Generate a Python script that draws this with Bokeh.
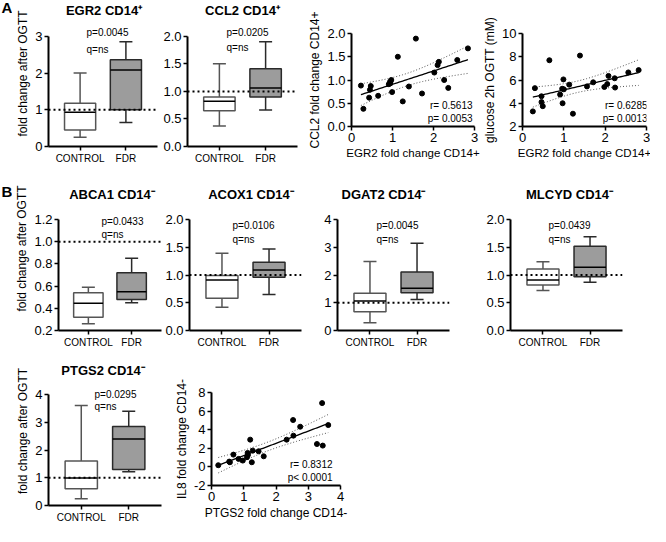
import numpy as np
from bokeh.plotting import figure
from bokeh.models import (Range1d, FactorRange, Label, Span, FixedTicker,
                          PrintfTickFormatter, ColumnDataSource)
from bokeh.layouts import row, column
from bokeh.core.properties import value
from bokeh.embed import file_html
from bokeh.resources import INLINE

FONT = "Liberation Sans"
groups = ["CONTROL", "FDR"]

# box statistics: [min, q1, median, q3, max]
egr2_control = [0.25, 0.45, 0.93, 1.18, 2.00]
egr2_fdr = [0.65, 1.00, 2.08, 2.36, 2.85]
ccl2_control = [0.37, 0.65, 0.82, 0.90, 1.50]
ccl2_fdr = [0.66, 0.90, 1.06, 1.41, 1.90]
abca1_control = [0.26, 0.32, 0.445, 0.54, 0.59]
abca1_fdr = [0.45, 0.48, 0.55, 0.72, 0.85]
acox1_control = [0.42, 0.58, 0.91, 0.99, 1.39]
acox1_fdr = [0.65, 0.96, 1.09, 1.23, 1.47]
dgat2_control = [0.28, 0.68, 1.06, 1.34, 2.49]
dgat2_fdr = [1.12, 1.36, 1.52, 2.11, 3.14]
mlcyd_control = [0.72, 0.82, 0.91, 1.11, 1.24]
mlcyd_fdr = [0.87, 0.97, 1.14, 1.52, 1.69]
ptgs2_control = [0.24, 0.60, 0.99, 1.60, 3.60]
ptgs2_fdr = [1.22, 1.30, 2.40, 2.85, 3.40]

# scatter data
egr2_fc = [0.23, 0.29, 0.43, 0.45, 0.47, 0.65, 0.91, 0.94, 0.95, 0.97, 0.99, 1.13,
           1.25, 1.40, 1.57, 1.72, 2.02, 2.10, 2.13, 2.26, 2.36, 2.58, 2.84]
ccl2_fc = [0.88, 0.38, 0.62, 0.79, 0.87, 0.66, 0.91, 0.96, 0.93, 1.00, 0.74, 1.50,
           0.54, 0.86, 1.89, 0.71, 1.16, 1.32, 1.39, 1.00, 0.83, 1.43, 1.68]
egr2_fc_g = [0.25, 0.30, 0.46, 0.46, 0.49, 0.65, 0.91, 0.96, 0.97, 0.99, 1.00, 1.13,
             1.22, 1.39, 1.56, 1.71, 1.98, 2.05, 2.08, 2.23, 2.24, 2.56, 2.81]
glucose_2h = [3.30, 5.30, 4.60, 4.10, 3.75, 7.70, 4.75, 5.25, 4.00, 6.05, 5.20, 5.60,
              3.10, 8.10, 5.45, 5.80, 5.40, 5.65, 6.35, 6.15, 5.35, 6.65, 6.85]
ptgs2_fc = [0.21, 0.55, 0.57, 0.68, 0.84, 0.97, 1.10, 1.12, 1.13, 1.20, 1.25, 1.28,
            1.46, 1.62, 2.33, 2.53, 2.54, 2.75, 3.27, 3.43, 3.45, 3.62]
il8_fc = [0.18, 0.57, 0.50, 1.32, 0.86, 0.68, 1.04, 1.50, 1.29, 2.93, 0.50, 1.75,
          1.68, 1.14, 2.93, 5.04, 3.36, 4.32, 2.46, 6.86, 2.29, 4.50]


def style(p, xsize, ysize):
    p.outline_line_color = None
    p.xgrid.visible = False
    p.ygrid.visible = False
    p.background_fill_color = "white"
    p.border_fill_color = "white"
    for ax, sz in ((p.xaxis[0], xsize), (p.yaxis[0], ysize)):
        ax.axis_line_width = 2
        ax.axis_line_color = "black"
        ax.major_tick_line_width = 1.5
        ax.major_tick_line_color = "black"
        ax.major_tick_in = 0
        ax.major_tick_out = 4
        ax.minor_tick_in = 0
        ax.minor_tick_out = 0
        ax.major_label_text_font = FONT
        ax.major_label_text_font_size = sz
        ax.major_label_text_color = "black"
        ax.major_label_standoff = 2
        ax.axis_label_text_font = FONT
        ax.axis_label_text_font_style = "normal"
        ax.axis_label_text_font_size = "12px"
        ax.axis_label_text_color = "black"
        ax.axis_label_standoff = 2


def lab(p, sx, sy, text, size="10px", align="left", bold=False):
    p.add_layout(Label(x=sx, y=sy, x_units="screen", y_units="screen", text=text,
                       text_font=FONT, text_font_size=size, text_align=align,
                       text_baseline="middle", text_color="black",
                       text_font_style="bold" if bold else "normal"))


def base_fig(W, H, mbl, mbr, mbt, mbb, xr, yr):
    return figure(width=W, height=H, output_backend="svg", toolbar_location=None,
                  x_range=xr, y_range=yr, frame_align=False,
                  min_border_left=mbl, min_border_right=mbr,
                  min_border_top=mbt, min_border_bottom=mbb)


def letter_fig(letter, W, H, yc):
    p = figure(width=W, height=H, output_backend="svg", toolbar_location=None,
               x_range=Range1d(0, W), y_range=Range1d(H, 0),
               x_axis_type=None, y_axis_type=None, min_border=0, frame_align=False)
    p.outline_line_color = None
    p.grid.visible = False
    p.border_fill_color = "white"
    p.text(x=[1], y=[yc], text=[letter], text_font=value(FONT), text_font_size="15px",
           text_font_style="bold", text_baseline="middle", text_color="black")
    return p


def box_panel(title, ctrl, fdr, y0, y1, yticks, yfmt, W, H, mbl, mbr, top_px, mbb,
              title_dx, title_y, pq_x, p_y, q_y, ptext, ylabel=None):
    fh = H - mbb
    yend = y1 + top_px * (y1 - y0) / (fh - top_px)
    p = base_fig(W, H, mbl, mbr, 0, mbb,
                 FactorRange(factors=groups, range_padding=0.19), Range1d(y0, yend))
    style(p, "10px", "13px")
    p.yaxis.bounds = (y0, y1)
    p.yaxis.ticker = FixedTicker(ticks=yticks)
    p.yaxis.formatter = PrintfTickFormatter(format=yfmt)
    if ylabel:
        p.yaxis.axis_label = ylabel
    stats = list(zip(ctrl, fdr))
    src = ColumnDataSource(dict(x=groups, lo=list(stats[0]), q1=list(stats[1]),
                                med=list(stats[2]), q3=list(stats[3]), hi=list(stats[4]),
                                fill=["white", "#9c9c9c"], line=["#555555", "#2a2a2a"],
                                mx0=[(g, -0.34) for g in groups],
                                mx1=[(g, 0.34) for g in groups]))
    p.segment(x0="x", y0="lo", x1="x", y1="q1", line_color="line", line_width=1.5, source=src)
    p.segment(x0="x", y0="q3", x1="x", y1="hi", line_color="line", line_width=1.5, source=src)
    p.scatter(x="x", y="lo", marker="dash", size=13, line_color="line", line_width=1.5, source=src)
    p.scatter(x="x", y="hi", marker="dash", size=13, line_color="line", line_width=1.5, source=src)
    p.vbar(x="x", bottom="q1", top="q3", width=0.68, fill_color="fill",
           line_color="line", line_width=1.5, source=src)
    p.segment(x0="mx0", y0="med", x1="mx1", y1="med", line_color="black",
              line_width=1.5, source=src)
    p.add_layout(Span(location=1, dimension="width", line_color="black",
                      line_width=2, line_dash="2 3"))
    fw = W - mbl - mbr
    lab(p, fw / 2 + title_dx, fh - title_y, title, size="13px", align="center", bold=True)
    lab(p, pq_x, fh - p_y, ptext)
    lab(p, pq_x, fh - q_y, "q=ns")
    return p


def fit_band(x, y, t):
    x = np.asarray(x, float)
    y = np.asarray(y, float)
    n = len(x)
    b, a = np.polyfit(x, y, 1)
    xs = np.linspace(x.min(), x.max(), 60)
    yh = a + b * xs
    resid = y - (a + b * x)
    s = np.sqrt(np.sum(resid ** 2) / (n - 2))
    sxx = np.sum((x - x.mean()) ** 2)
    se = s * np.sqrt(1.0 / n + (xs - x.mean()) ** 2 / sxx)
    return xs, yh, yh - t * se, yh + t * se


def scatter_panel(x, y, t, xr, yr, xticks, yticks, yfmt, xlabel, ylabel,
                  W, H, mbl, mbr, mbt, mbb, rtext, ptext, rs_right, rs_y, xl_size="12px"):
    p = base_fig(W, H, mbl, mbr, mbt, mbb, Range1d(*xr), Range1d(*yr))
    style(p, "13px", "13px")
    p.xaxis.axis_label_text_font_size = xl_size
    p.xaxis.ticker = FixedTicker(ticks=xticks)
    p.yaxis.ticker = FixedTicker(ticks=yticks)
    p.xaxis.formatter = PrintfTickFormatter(format="%d")
    p.yaxis.formatter = PrintfTickFormatter(format=yfmt)
    p.xaxis.axis_label = xlabel
    p.yaxis.axis_label = ylabel
    xs, yh, lo, hi = fit_band(x, y, t)
    p.line(xs, lo, line_color="#555555", line_width=1, line_dash="1 2")
    p.line(xs, hi, line_color="#555555", line_width=1, line_dash="1 2")
    p.line(xs, yh, line_color="black", line_width=1.3)
    p.scatter(x, y, size=5, color="black")
    fw = W - mbl - mbr
    lab(p, fw - rs_right, rs_y + 13, rtext, align="right")
    lab(p, fw - rs_right, rs_y, ptext, align="right")
    return p


HA = 166
la = letter_fig("A", 12, HA, 7)
a1 = box_panel("EGR2 CD14\u207a", egr2_control, egr2_fdr, 0, 3, [0, 1, 2, 3], "%d",
               148, HA, 36, 3, 36, 19, 1, 11, 38, 33, 50, "p=0.0045",
               ylabel="fold change after OGTT")
a2 = box_panel("CCL2 CD14\u207a", ccl2_control, ccl2_fdr, 0, 2,
               [0, 0.5, 1, 1.5, 2], "%.1f",
               144, HA, 27, 7, 36, 19, 0, 11, 39, 33, 48, "p=0.0205")
a3 = scatter_panel(egr2_fc, ccl2_fc, 2.080, (0, 3), (0, 2), [0, 1, 2, 3],
                   [0, 0.5, 1, 1.5, 2], "%.1f",
                   "EGR2 fold change CD14+", "CCL2 fold change CD14+",
                   176, HA, 47, 6, 33, 40, "r= 0.5613", "p= 0.0053", 2, 8,
                   xl_size="11.5px")
a4 = scatter_panel(egr2_fc_g, glucose_2h, 2.080, (0, 3), (2, 10), [0, 1, 2, 3],
                   [2, 4, 6, 8, 10], "%d",
                   "EGR2 fold change CD14+", "glucose 2h OGTT (mM)",
                   170, HA, 37, 4, 33, 40, "r= 0.6285", "p= 0.0013", 4, 8,
                   xl_size="11.5px")

HB = 190
lb = letter_fig("B", 12, HB, 25)
b1 = box_panel("ABCA1 CD14\u207b", abca1_control, abca1_fdr, 0.2, 1.2,
               [0.2, 0.4, 0.6, 0.8, 1.0, 1.2], "%.1f",
               150, HB, 36, 1, 53, 26, -3, 28, 43, 55, 68, "p=0.0433",
               ylabel="fold change after OGTT")
b2 = box_panel("ACOX1 CD14\u207b", acox1_control, acox1_fdr, 0, 2,
               [0, 0.5, 1, 1.5, 2], "%.1f",
               148, HB, 26, 9, 53, 26, 5, 28, 43, 59, 73, "p=0.0106")
b3 = box_panel("DGAT2 CD14\u207b", dgat2_control, dgat2_fdr, 0, 4,
               [0, 1, 2, 3, 4], "%d",
               160, HB, 27, 21, 53, 26, -10, 28, 39, 59, 73, "p=0.0045")
b4 = box_panel("MLCYD CD14\u207b", mlcyd_control, mlcyd_fdr, 0, 2,
               [0, 0.5, 1, 1.5, 2], "%.1f",
               180, HB, 40, 28, 53, 26, 3, 28, 38, 59, 73, "p=0.0439")

HC = 170
c1 = box_panel("PTGS2 CD14\u207b", ptgs2_control, ptgs2_fdr, 0, 4,
               [0, 1, 2, 3, 4], "%d",
               166, HC, 48, 5, 38, 21, -2, 14, 46, 38, 50, "p=0.0295",
               ylabel="fold change after OGTT")
c2 = scatter_panel(ptgs2_fc, il8_fc, 2.086, (0, 4), (-2, 8), [0, 1, 2, 3, 4],
                   [-2, 0, 2, 4, 6, 8], "%d",
                   "PTGS2 fold change CD14-", "IL8 fold change CD14-",
                   184, HC, 45, 10, 36, 41, "r= 0.8312", "p< 0.0001", 8, 8)

layout = column(row(la, a1, a2, a3, a4), row(lb, b1, b2, b3, b4), row(c1, c2))
open("out.html", "w").write(file_html(layout, INLINE))
